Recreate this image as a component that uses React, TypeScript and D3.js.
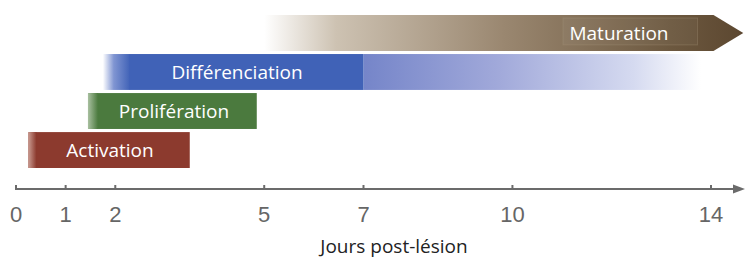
import React from "react";
import * as d3 from "d3";

// phases of the timeline (days post-lesion)
const phases = ["Maturation", "Différenciation", "Prolifération", "Activation"];
const phaseStart = [5.0, 2.3, 1.5, 0.3];
const phaseEnd = [14.05, 7.0, 4.85, 3.5];
const fadeIn = [5.0, 1.75, 1.45, 0.25];
const fadeOut = [14.65, 13.8, 4.85, 3.5];
const phaseColors = ["#5c4730", "#4062b7", "#4b7a3e", "#8c3a2e"];

const tickDays = [0, 1, 2, 5, 7, 10, 14];
const axisTitle = "Jours post-lésion";

const W = 750, H = 260;
const axisY = 189;
const labelFont = "'Open Sans', Lato, sans-serif";

export default function App() {
  const x = d3.scaleLinear().domain([0, 14]).range([16, 711]);
  const y = d3.scaleBand<string>().domain(phases).range([15, 168]).paddingInner(0.08);
  const bw = y.bandwidth();

  const i = (name: string) => phases.indexOf(name);

  // Maturation arrow
  const mat = i("Maturation");
  const my = y("Maturation")!;
  const arrowPath = d3.path();
  arrowPath.moveTo(x(fadeIn[mat]), my);
  arrowPath.lineTo(x(phaseEnd[mat]), my);
  arrowPath.lineTo(x(fadeOut[mat]), my + bw / 2);
  arrowPath.lineTo(x(phaseEnd[mat]), my + bw);
  arrowPath.lineTo(x(fadeIn[mat]), my + bw);
  arrowPath.closePath();

  const dif = i("Différenciation");
  const dy = y("Différenciation")!;
  const pro = i("Prolifération");
  const py = y("Prolifération")!;
  const act = i("Activation");
  const ay = y("Activation")!;

  return (
    <svg width={W} height={H} style={{ position: "absolute", left: 0, top: 0, background: "#fff" }}>
      <defs>
        <linearGradient id="matGrad" gradientUnits="userSpaceOnUse" x1={x(fadeIn[mat])} x2={x(fadeOut[mat])} y1={0} y2={0}>
          <stop offset="0" stopColor="#ffffff" />
          <stop offset="0.15" stopColor="#cdc2b2" />
          <stop offset="0.5" stopColor="#9a8770" />
          <stop offset="0.85" stopColor="#6c583f" />
          <stop offset="1" stopColor={phaseColors[mat]} />
        </linearGradient>
        <linearGradient id="difIn" gradientUnits="userSpaceOnUse" x1={x(fadeIn[dif])} x2={x(phaseStart[dif])} y1={0} y2={0}>
          <stop offset="0" stopColor="#ffffff" />
          <stop offset="0.4" stopColor="#8095d2" />
          <stop offset="1" stopColor={phaseColors[dif]} />
        </linearGradient>
        <linearGradient id="difOut" gradientUnits="userSpaceOnUse" x1={x(phaseEnd[dif])} x2={x(fadeOut[dif])} y1={0} y2={0}>
          <stop offset="0" stopColor="#7585c9" />
          <stop offset="0.4" stopColor="#a1a9da" />
          <stop offset="0.8" stopColor="#d5daf0" />
          <stop offset="1" stopColor="#ffffff" />
        </linearGradient>
        <linearGradient id="proIn" gradientUnits="userSpaceOnUse" x1={x(fadeIn[pro])} x2={x(fadeIn[pro]) + 10} y1={0} y2={0}>
          <stop offset="0" stopColor="#a9c0a0" />
          <stop offset="1" stopColor={phaseColors[pro]} />
        </linearGradient>
        <linearGradient id="actIn" gradientUnits="userSpaceOnUse" x1={x(fadeIn[act])} x2={x(fadeIn[act]) + 8} y1={0} y2={0}>
          <stop offset="0" stopColor="#c99a90" />
          <stop offset="1" stopColor={phaseColors[act]} />
        </linearGradient>
      </defs>

      {/* Maturation */}
      <path d={arrowPath.toString()} fill="url(#matGrad)" />
      <rect x={563} y={my + 3} width={x(phaseEnd[mat]) - 16 - 563} height={bw - 9} fill="#ffffff" fillOpacity={0.04} stroke="#a8987f" strokeOpacity={0.3} strokeWidth={1} />
      <text x={619} y={my + bw / 2 + 7} textAnchor="middle" fill="#fff" fontFamily={labelFont} fontSize={19}>Maturation</text>

      {/* Différenciation */}
      <rect x={x(phaseEnd[dif])} y={dy} width={x(fadeOut[dif]) - x(phaseEnd[dif])} height={bw} fill="url(#difOut)" />
      <rect x={x(fadeIn[dif])} y={dy} width={x(phaseStart[dif]) - x(fadeIn[dif])} height={bw} fill="url(#difIn)" />
      <rect x={x(phaseStart[dif]) - 0.5} y={dy} width={x(phaseEnd[dif]) - x(phaseStart[dif]) + 0.5} height={bw} fill={phaseColors[dif]} />
      <text x={237} y={dy + bw / 2 + 7} textAnchor="middle" fill="#fff" fontFamily={labelFont} fontSize={19}>Différenciation</text>

      {/* Prolifération */}
      <rect x={x(fadeIn[pro])} y={py} width={x(phaseEnd[pro]) - x(fadeIn[pro])} height={bw} fill={phaseColors[pro]} />
      <rect x={x(fadeIn[pro])} y={py} width={10} height={bw} fill="url(#proIn)" />
      <text x={174} y={py + bw / 2 + 7} textAnchor="middle" fill="#fff" fontFamily={labelFont} fontSize={19}>Prolifération</text>

      {/* Activation */}
      <rect x={x(fadeIn[act])} y={ay} width={x(phaseEnd[act]) - x(fadeIn[act])} height={bw} fill={phaseColors[act]} />
      <rect x={x(fadeIn[act])} y={ay} width={8} height={bw} fill="url(#actIn)" />
      <text x={110} y={ay + bw / 2 + 7} textAnchor="middle" fill="#fff" fontFamily={labelFont} fontSize={19}>Activation</text>

      {/* axis */}
      <line x1={15} x2={736} y1={axisY} y2={axisY} stroke="#6b6b6b" strokeWidth={2} />
      <polygon points={`733,${axisY - 4.5} 745,${axisY} 733,${axisY + 4.5}`} fill="#6b6b6b" />
      {tickDays.map(d => (
        <g key={d}>
          <line x1={x(d)} x2={x(d)} y1={axisY - 4} y2={axisY} stroke="#6b6b6b" strokeWidth={2} />
          <text x={x(d)} y={222} textAnchor="middle" fill="#666" fontFamily="'Liberation Sans', Arial, sans-serif" fontSize={22}>{d}</text>
        </g>
      ))}
      <text x={394} y={253} textAnchor="middle" fill="#222" fontFamily={labelFont} fontSize={19}>{axisTitle}</text>
    </svg>
  );
}
